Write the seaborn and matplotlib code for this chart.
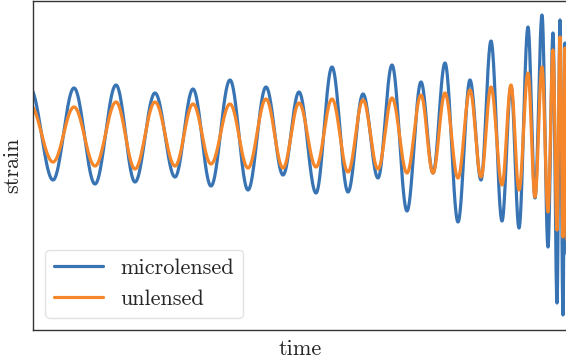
import numpy as np
import pandas as pd
import matplotlib
matplotlib.use("Agg")
import matplotlib.pyplot as plt
import seaborn as sns

# Extrema of the two waveforms (alternating peak / trough)
time_extrema = [-0.03, 0.20, 0.41, 0.62, 0.83, 1.02, 1.22, 1.42, 1.60, 1.78,
                1.97, 2.15, 2.33, 2.50, 2.66, 2.83, 2.99, 3.15, 3.30, 3.45,
                3.59, 3.74, 3.88, 4.00, 4.12, 4.25, 4.37, 4.48, 4.58, 4.69,
                4.78, 4.86, 4.95, 5.02, 5.09, 5.15, 5.20, 5.24, 5.27, 5.30,
                5.32, 5.34]
microlensed_extrema = [0.46, -0.46, 0.46, -0.50, 0.49, -0.48, 0.41, -0.43, 0.45, -0.52,
                       0.54, -0.56, 0.47, -0.41, 0.42, -0.59, 0.67, -0.58, 0.40, -0.44,
                       0.69, -0.77, 0.52, -0.39, 0.71, -0.88, 0.54, -0.46, 0.93, -0.87,
                       0.48, -0.94, 1.07, -0.64, 1.19, -1.13, 1.01, -1.69, 1.14, -1.81,
                       0.91, -1.20]
unlensed_extrema = [0.29, -0.28, 0.27, -0.32, 0.32, -0.35, 0.32, -0.32, 0.30, -0.30,
                    0.30, -0.34, 0.35, -0.34, 0.31, -0.33, 0.35, -0.38, 0.34, -0.35,
                    0.36, -0.39, 0.39, -0.39, 0.41, -0.44, 0.44, -0.43, 0.47, -0.51,
                    0.49, -0.56, 0.61, -0.63, 0.67, -0.78, 0.84, -0.96, 0.97, -1.03,
                    0.86, -1.06]
series_names = ["microlensed", "unlensed"]
series_colors = ["#3874b3", "#f5862a"]


def smooth_through(ts, ys, n=40):
    """Join consecutive extrema with half-cosine arcs (smooth oscillation)."""
    out_t, out_y = [], []
    for i in range(len(ts) - 1):
        s = np.linspace(0, 1, n, endpoint=False)
        out_t.append(ts[i] + (ts[i + 1] - ts[i]) * s)
        out_y.append(ys[i] + (ys[i + 1] - ys[i]) * (1 - np.cos(np.pi * s)) / 2)
    out_t.append([ts[-1]])
    out_y.append([ys[-1]])
    return np.concatenate(out_t), np.concatenate(out_y)


frames = []
for name, ext in zip(series_names, [microlensed_extrema, unlensed_extrema]):
    t, y = smooth_through(time_extrema, ext)
    frames.append(pd.DataFrame({"time": t, "strain": y, "series": name}))
df = pd.concat(frames, ignore_index=True)

sns.set_style("white")
plt.rcParams["font.family"] = ["cmr10", "DejaVu Serif"]
plt.rcParams["axes.formatter.use_mathtext"] = True
plt.rcParams["mathtext.fontset"] = "cm"

fig = plt.figure(figsize=(5.66, 3.60), dpi=100)
ax = fig.add_axes([33 / 566, 30 / 360, 534 / 566, 329 / 360])

sns.lineplot(data=df, x="time", y="strain", hue="series", palette=series_colors,
             estimator=None, sort=False, linewidth=2.3, ax=ax)

ax.set_xlim(0.0, 5.34)
ax.set_ylim(-1.96, 1.33)
ax.set_xticks([])
ax.set_yticks([])
ax.set_xlabel("time", fontsize=16, labelpad=6.5)
ax.set_ylabel("strain", fontsize=16, labelpad=8)
for side in ["left", "bottom", "top", "right"]:
    ax.spines[side].set_color("#333333")
    ax.spines[side].set_linewidth(1.0)

leg = ax.legend(loc="lower left", fontsize=16, handlelength=2.2,
                handletextpad=0.8, borderaxespad=0.55, frameon=True,
                fancybox=True, framealpha=0.8, edgecolor="#dddddd")
for line in leg.get_lines():
    line.set_linewidth(2.3)

fig.savefig("out.png", dpi=100)
